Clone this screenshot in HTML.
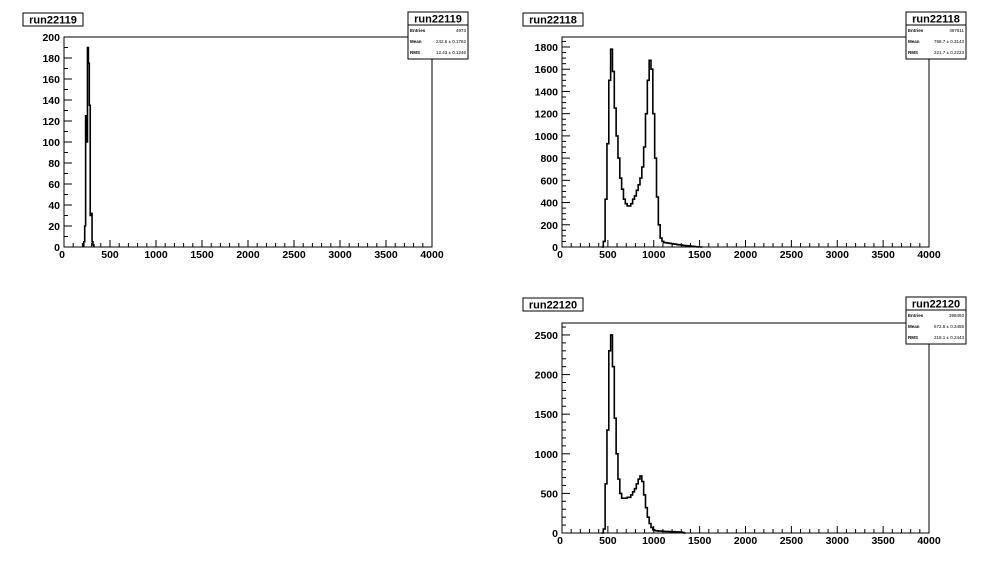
<!DOCTYPE html>
<html><head><meta charset="utf-8"><style>
body{margin:0;background:#fff;}
svg{display:block;font-family:"Liberation Sans",Arial,sans-serif;}
</style></head><body>
<svg id="c" width="996" height="572" viewBox="0 0 996 572"></svg>
<script>
// ---- data ----
const p1Start = 215, p1Bin = 10;
const p1Values = [5,20,125,100,190,175,135,30,32,5,2];
const p2Start = 430, p2Bin = 20;
const p2Values = [0,50,430,930,1500,1780,1580,1250,1000,800,620,520,430,390,370,370,390,430,460,510,560,620,720,900,1200,1500,1680,1600,1200,800,450,200,80,50,40,38,35,33,30,28,25,22,20,18,15,13,12,10,8,6,5,3,2,1,0];
const p3Start = 430, p3Bin = 20;
const p3Values = [0,50,620,1300,2300,2500,2100,1450,1000,680,500,440,440,440,450,450,480,520,560,620,680,720,650,480,320,200,120,70,40,30,28,25,25,22,20,20,18,18,16,16,15,14,12,10,5,0];
const xTicks = [0,500,1000,1500,2000,2500,3000,3500,4000];
const p1YTicks = [0,20,40,60,80,100,120,140,160,180,200];
const p2YTicks = [0,200,400,600,800,1000,1200,1400,1600,1800];
const p3YTicks = [0,500,1000,1500,2000,2500];

const svg = document.getElementById('c');
const NS = 'http://www.w3.org/2000/svg';
function mk(tag, attrs, parent){const e=document.createElementNS(NS,tag);for(const k in attrs)e.setAttribute(k,attrs[k]);(parent||svg).appendChild(e);return e;}

function pad(o){
  const g = mk('g',{});
  
  
  const X = v => o.x0 + (v/4000)*(o.x1-o.x0);
  const Y = v => o.y1 - (v/o.ymax)*(o.y1-o.y0);
  const fr = mk('rect',{x:o.x0,y:o.y0,width:o.x1-o.x0,height:o.y1-o.y0,fill:'none',stroke:'#000','stroke-width':1},g);
  
  
  for(let v=0; v<=4000; v+=100){
    const major = v%500===0;
    mk('line',{x1:X(v),x2:X(v),y1:o.y1,y2:o.y1-(major?7:4),stroke:'#000'},g);
  }
  xTicks.forEach(v=>{
    const t = mk('text',{x:X(v)+(v===0?-2:0),y:o.y1+11,'font-size':10.5,'font-weight':'bold','text-anchor':'middle'},g);
    t.textContent = v;
    
    
  });
  for(let v=0; v<=o.ymax; v+=o.ymin){
    const major = Math.abs(v/o.ymaj - Math.round(v/o.ymaj))<1e-6;
    mk('line',{x1:o.x0,x2:o.x0+(major?8:4),y1:Y(v),y2:Y(v),stroke:'#000'},g);
  }
  o.yTicks.forEach(v=>{
    const t = mk('text',{x:o.x0-4,y:Y(v)+4,'font-size':10.5,'font-weight':'bold','text-anchor':'end'},g);
    t.textContent = v;
    
    
  });
  let d = 'M'+X(o.start)+','+Y(0);
  o.values.forEach((v,i)=>{
    const xa = X(o.start+i*o.bin), xb = X(o.start+(i+1)*o.bin);
    d += ' L'+xa+','+Y(v)+' L'+xb+','+Y(v);
  });
  d += ' L'+X(o.start+o.values.length*o.bin)+','+Y(0);
  const h = mk('path',{d:d,fill:'none',stroke:'#000','stroke-width':1.6},g);
  
  
  const tb = mk('g',{},g);
  
  
  mk('rect',{x:o.tx,y:o.ty,width:60,height:13,fill:'#fff',stroke:'#000'},tb);
  const tt = mk('text',{x:o.tx+30,y:o.ty+10.5,'font-size':11,'font-weight':'bold','text-anchor':'middle'},tb);
  tt.textContent = o.title;
  const sb = mk('g',{},g);
  
  
  mk('rect',{x:o.sx,y:o.sy,width:60,height:47,fill:'#fff',stroke:'#000'},sb);
  mk('line',{x1:o.sx,x2:o.sx+60,y1:o.sy+13,y2:o.sy+13,stroke:'#000'},sb);
  const st = mk('text',{x:o.sx+30,y:o.sy+10.5,'font-size':11,'font-weight':'bold','text-anchor':'middle'},sb);
  st.textContent = o.title;
  const rows=[['Entries',o.entries],['Mean',o.mean],['RMS',o.rms]];
  rows.forEach((r,i)=>{
    const a = mk('text',{x:o.sx+2,y:o.sy+20+i*11,'font-size':4.5,'font-weight':'bold'},sb); a.textContent=r[0];
    const b = mk('text',{x:o.sx+58,y:o.sy+20+i*11,'font-size':4.5,'text-anchor':'end'},sb); b.textContent=r[1];
  });
}

pad({name:'panel-run22119',x0:64,x1:432,y0:37,y1:247,ymax:200,ymaj:20,ymin:10,yTicks:p1YTicks,start:p1Start,bin:p1Bin,values:p1Values,title:'run22119',tx:23,ty:13,sx:408,sy:12,entries:'4973',mean:'242.6 ± 0.1762',rms:'12.43 ± 0.1246'});
pad({name:'panel-run22118',x0:562,x1:929,y0:37,y1:247,ymax:1890,ymaj:200,ymin:50,yTicks:p2YTicks,start:p2Start,bin:p2Bin,values:p2Values,title:'run22118',tx:523,ty:13,sx:906,sy:12,entries:'497611',mean:'768.7 ± 0.3143',rms:'221.7 ± 0.2223'});
pad({name:'panel-run22120',x0:562,x1:929,y0:323,y1:533,ymax:2651,ymaj:500,ymin:100,yTicks:p3YTicks,start:p3Start,bin:p3Bin,values:p3Values,title:'run22120',tx:523,ty:298,sx:906,sy:297,entries:'398493',mean:'672.5 ± 0.3455',rms:'218.1 ± 0.2443'});
</script>
</body></html>
